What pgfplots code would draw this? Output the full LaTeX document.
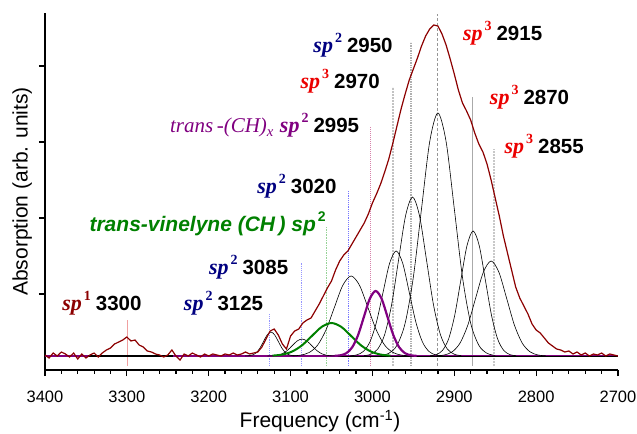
\documentclass[border=0pt]{standalone}
\usepackage{fontspec}
\setmainfont{Liberation Sans}
\newfontfamily\serif{Liberation Serif}
\usepackage{pgfplots}
\pgfplotsset{compat=1.18}

\definecolor{dred}{RGB}{140,0,0}
\definecolor{navy}{RGB}{0,0,128}
\definecolor{spred}{RGB}{235,0,0}
\definecolor{purp}{RGB}{128,0,128}
\definecolor{dgreen}{RGB}{0,128,0}

\newcommand{\splab}[3]{%
 {\color{#1}\fontsize{22}{24}\selectfont\serif\bfseries\itshape sp}%
 \hspace{2pt}\raisebox{10pt}{\color{#1}\fontsize{14}{16}\selectfont\serif\bfseries #2}%
 \hspace{5pt}{\fontsize{20.5}{24}\selectfont\bfseries #3}}

\pgfplotstableread{
x y
3400 1
3395 -2
3390 3
3385 0
3380 4
3375 2
3370 -1
3365 3
3360 -3
3355 2
3350 -2
3345 1
3340 3
3335 -1
3330 3
3325 6
3320 8
3315 12
3310 14
3305 16
3300 19
3295 15
3290 16
3285 11
3280 9
3275 5
3270 4
3265 2
3260 1
3255 -1
3250 1
3245 6
3240 0
3235 -4
3230 2
3225 0
3220 3
3215 1
3210 -1
3205 2
3200 0
3195 2
3190 1
3185 0
3180 2
3175 1
3170 3
3165 1
3160 2
3155 4
3150 2
3145 3
3140 4
3135 9
3130 17
3125 25
3120 27
3115 21
3110 12
3105 7
3100 20
3095 25
3090 27
3085 33
3080 36
3075 38
3070 45
3065 52
3060 60
3055 68
3050 75
3045 86
3040 95
3035 101
3030 105
3025 112
3020 119
3015 126
3010 133
3005 142
3000 153
2995 162
2990 172
2985 184
2980 197
2975 213
2970 230
2965 247
2960 262
2955 276
2950 287
2945 298
2940 310
2935 320
2930 327
2925 331
2920 330
2915 322
2910 311
2905 297
2900 282
2895 266
2890 253
2885 245
2880 236
2875 223
2870 212
2865 204
2860 192
2855 176
2850 158
2845 140
2840 120
2835 103
2830 86
2825 69
2820 58
2815 50
2810 42
2805 32
2800 26
2795 23
2790 18
2785 13
2780 10
2775 7
2770 6
2765 4
2760 5
2755 2
2750 4
2745 1
2740 3
2735 0
2730 2
2725 1
2720 3
2715 0
2710 2
2705 1
2700 0
}\expdata

\begin{document}
\begin{tikzpicture}
\begin{axis}[
  name=ax,
  scale only axis, width=573pt, height=357pt,
  x dir=reverse, xmin=2700, xmax=3400, ymin=-14, ymax=343,
  axis x line*=bottom, axis y line*=left,
  axis line style={line width=1.6pt},
  xtick={2700,2800,...,3400}, minor x tick num=4,
  ytick={62,138,214,290}, yticklabels={},
  tick align=outside,
  major tick length=6pt, minor tick length=3.5pt,
  every tick/.style={black, line width=1.2pt},
  xticklabel style={font=\fontsize{16.5}{18}\selectfont, yshift=-11pt},
  /pgf/number format/assume math mode=true,
  /pgf/number format/set thousands separator={},
  xlabel={Frequency (cm\textsuperscript{-1})},
  ylabel={Absorption (arb. units)},
  label style={font=\fontsize{21}{24}\selectfont},
  xlabel style={at={(axis description cs:0.48,-0.143)}, anchor=center},
  ylabel style={at={(axis description cs:-0.04,0.5)}, anchor=center},
]
% vertical marker lines
\addplot[draw={rgb,255:red,240;green,160;blue,160}, line width=0.8pt] coordinates {(3299,-10) (3299,36)};
\addplot[draw={rgb,255:red,150;green,150;blue,255}, line width=0.9pt, densely dotted] coordinates {(3126,-10) (3126,43)};
\addplot[draw={rgb,255:red,150;green,150;blue,255}, line width=0.9pt, densely dotted] coordinates {(3087,-10) (3087,93)};
\addplot[draw={rgb,255:red,150;green,210;blue,150}, line width=1.5pt, densely dotted] coordinates {(3056,-10) (3056,129)};
\addplot[draw={rgb,255:red,120;green,120;blue,255}, line width=1.2pt, densely dotted] coordinates {(3029,-10) (3029,166)};
\addplot[draw={rgb,255:red,215;green,130;blue,170}, line width=1pt, densely dotted] coordinates {(3002,-10) (3002,230)};
\addplot[draw={rgb,255:red,195;green,195;blue,195}, line width=2pt, densely dotted] coordinates {(2974.5,-10) (2974.5,269)};
\addplot[draw={rgb,255:red,175;green,175;blue,175}, line width=1.4pt, densely dotted] coordinates {(2953,-10) (2953,314)};
\addplot[draw={rgb,255:red,150;green,150;blue,150}, line width=0.7pt, densely dashed] coordinates {(2920.5,-10) (2920.5,342)};
\addplot[draw={rgb,255:red,170;green,170;blue,170}, line width=0.7pt] coordinates {(2878,-10) (2878,259)};
\addplot[draw={rgb,255:red,200;green,200;blue,200}, line width=2pt, densely dotted] coordinates {(2852,-10) (2852,207)};
% baselines
\addplot[purp, line width=2pt] coordinates {(3400,0) (2700,0)};
\addplot[black, line width=2pt] coordinates {(3347,0) (3244,0)};
\addplot[black, line width=0.8pt] coordinates {(3045,0) (2700,0)};
% fitted components
\addplot[black, line width=0.6pt, smooth] coordinates {(3155.5,0.05)(3151,0.27)(3146.5,1.05)(3142,3.2)(3137.5,7.8)(3133,14.6)(3128.5,21.2)(3124,24)(3119.5,21.2)(3115,14.6)(3110.5,7.8)(3106,3.2)(3101.5,1.05)(3097,0.27)(3092.5,0.05)};
\addplot[black, line width=0.6pt, smooth] coordinates {(3128,0.04)(3122,0.19)(3116,0.75)(3110,2.3)(3104,5.5)(3098,10.3)(3092,15.0)(3086,17)(3080,15.0)(3074,10.3)(3068,5.5)(3062,2.3)(3056,0.75)(3050,0.19)(3044,0.04)};
\addplot[black, line width=0.6pt, smooth] coordinates {(3097.75,0.18)(3087.5,0.9)(3077.25,3.5)(3067,10.8)(3056.75,26.0)(3046.5,48.5)(3036.25,70.6)(3026,80)(3015.75,70.6)(3005.5,48.5)(2995.25,26.0)(2985,10.8)(2974.75,3.5)(2964.5,0.9)(2954.25,0.18)};
\addplot[black, line width=0.6pt, smooth] coordinates {(3027,0.23)(3019,1.17)(3011,4.6)(3003,14.2)(2995,34.1)(2987,63.7)(2979,92.7)(2971,105)(2963,92.7)(2955,63.7)(2947,34.1)(2939,14.2)(2931,4.6)(2923,1.17)(2915,0.23)};
\addplot[black, line width=0.6pt, smooth] coordinates {(3010.5,0.35)(3002,1.76)(2993.5,6.98)(2985,21.5)(2976.5,51.6)(2968,96.4)(2959.5,140.3)(2951,159)(2942.5,140.3)(2934,96.4)(2925.5,51.6)(2917,21.5)(2908.5,6.98)(2900,1.76)(2891.5,0.35)};
\addplot[black, line width=0.6pt, smooth] coordinates {(2990,0.53)(2980,2.7)(2970,10.7)(2960,32.9)(2950,78.9)(2940,147.4)(2930,214.4)(2920,243)(2910,214.4)(2900,147.4)(2890,78.9)(2880,32.9)(2870,10.7)(2860,2.7)(2850,0.53)};
\addplot[black, line width=0.6pt, smooth] coordinates {(2929.5,0.28)(2922,1.39)(2914.5,5.5)(2907,16.9)(2899.5,40.6)(2892,75.8)(2884.5,110.3)(2877,125)(2869.5,110.3)(2862,75.8)(2854.5,40.6)(2847,16.9)(2839.5,5.5)(2832,1.39)(2824.5,0.28)};
\addplot[black, line width=0.6pt, smooth] coordinates {(2921.5,0.21)(2912,1.05)(2902.5,4.2)(2893,12.9)(2883.5,30.8)(2874,57.6)(2864.5,83.8)(2855,95)(2845.5,83.8)(2836,57.6)(2826.5,30.8)(2817,12.9)(2807.5,4.2)(2798,1.05)(2788.5,0.21)};
\addplot[dgreen, line width=2pt, smooth] coordinates {(3122,0.37)(3110,1.45)(3098,4.5)(3086,10.7)(3074,20.0)(3062,29.1)(3050,33)(3038,29.1)(3026,20.0)(3014,10.7)(3002,4.5)(2990,1.45)(2978,0.37)};
\addplot[purp, line width=2.2pt, smooth] coordinates {(3046.05,0.14)(3038.9,0.72)(3031.75,2.85)(3024.6,8.8)(3017.45,21.1)(3010.3,39.4)(3003.15,57.4)(2996,65)(2988.85,57.4)(2981.7,39.4)(2974.55,21.1)(2967.4,8.8)(2960.25,2.85)(2953.1,0.72)(2945.95,0.14)};
% experimental spectrum
\addplot[dred, line width=1.2pt] table[x=x,y=y] {\expdata};
% annotations
\node[anchor=base east] at (axis cs:2971,303.3) {\splab{navy}{2}{2950}};
\node[anchor=base east] at (axis cs:2986.7,267) {\splab{spred}{3}{2970}};
\node[anchor=base east] at (axis cs:2788.3,315) {\splab{spred}{3}{2915}};
\node[anchor=base east] at (axis cs:2755.4,251.7) {\splab{spred}{3}{2870}};
\node[anchor=base east] at (axis cs:2737.5,202) {\splab{spred}{3}{2855}};
\node[anchor=base east] at (axis cs:3011.9,223) {{\color{purp}\fontsize{21}{24}\selectfont\serif\itshape trans\,-(CH)\textsubscript{x}}\hspace{6pt}\splab{purp}{2}{2995}};
\node[anchor=base east] at (axis cs:3039.6,162) {\splab{navy}{2}{3020}};
\node[anchor=base east] at (axis cs:3052.7,124.3) {{\color{dgreen}\fontsize{21}{24}\selectfont\bfseries\itshape trans-vinelyne (CH\,) sp}\hspace{2pt}\raisebox{10pt}{\color{dgreen}\fontsize{14}{16}\selectfont\bfseries 2}};
\node[anchor=base east] at (axis cs:3098.6,81.7) {\splab{navy}{2}{3085}};
\node[anchor=base east] at (axis cs:3277.8,46) {\splab{dred}{1}{3300}};
\node[anchor=base east] at (axis cs:3129.2,46) {\splab{navy}{2}{3125}};
\end{axis}
\pgfresetboundingbox
\path ([xshift=-45pt,yshift=-63pt]ax.south west) rectangle ([xshift=19pt,yshift=13pt]ax.north east);
\end{tikzpicture}
\end{document}
